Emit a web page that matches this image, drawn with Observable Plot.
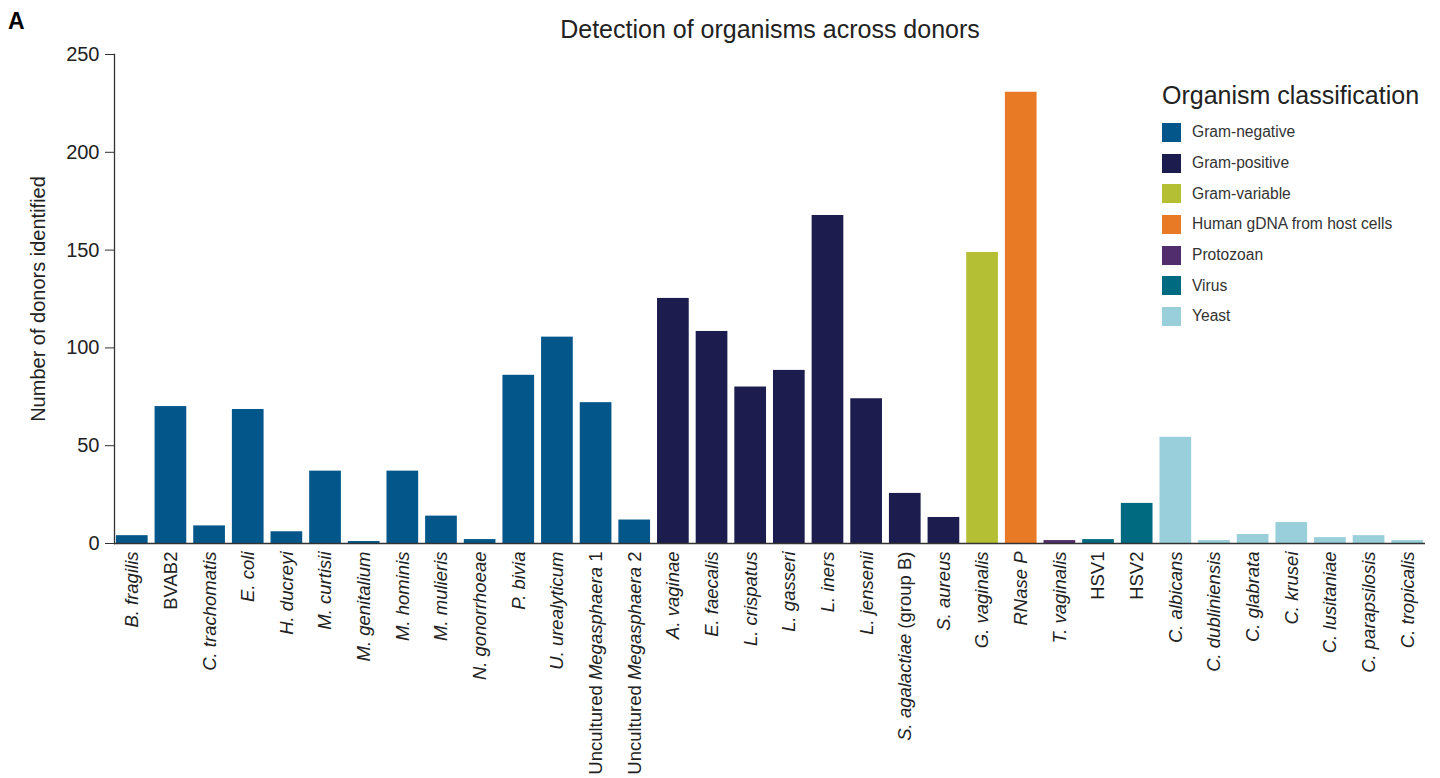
<!DOCTYPE html>
<html>
<head>
<meta charset="utf-8">
<script src="https://cdn.jsdelivr.net/npm/d3@7"></script>
<script src="https://cdn.jsdelivr.net/npm/@observablehq/plot@0.6"></script>
<style>
  html, body { margin: 0; padding: 0; background: white; }
  body { font-family: "Liberation Sans", Arial, sans-serif; color: #222; }
  #wrap { position: relative; width: 1440px; height: 778px; }
  #header { height: 44px; position: relative; }
  #panel { position: absolute; left: 8px; top: 8px; font-weight: bold; font-size: 23px; color: #000; }
  #title { position: absolute; left: 0; width: 1540px; top: 15px; text-align: center; font-size: 25px; color: #222; }
  #legend { position: absolute; left: 1162px; top: 80px; }
  #legend .lt { font-size: 25px; color: #222; line-height: 30px; margin-bottom: 7px; }
  #legend .row { display: flex; align-items: center; height: 30.7px; font-size: 15.6px; color: #333; }
  #legend .sw { width: 19px; height: 19px; margin-right: 11px; }
</style>
</head>
<body>
<div id="wrap">
  <div id="header">
    <div id="panel">A</div>
    <div id="title">Detection of organisms across donors</div>
  </div>
  <div id="chart"></div>
  <div id="legend"></div>
</div>
<script>
const categories = [
  "B. fragilis", "BVAB2", "C. trachomatis", "E. coli", "H. ducreyi", "M. curtisii",
  "M. genitalium", "M. hominis", "M. mulieris", "N. gonorrhoeae", "P. bivia",
  "U. urealyticum", "Uncultured Megasphaera 1", "Uncultured Megasphaera 2",
  "A. vaginae", "E. faecalis", "L. crispatus", "L. gasseri", "L. iners", "L. jensenii",
  "S. agalactiae (group B)", "S. aureus", "G. vaginalis", "RNase P", "T. vaginalis",
  "HSV1", "HSV2", "C. albicans", "C. dubliniensis", "C. glabrata", "C. krusei",
  "C. lusitaniae", "C. parapsilosis", "C. tropicalis"
];
const donors = [
  4, 70, 9, 68.5, 6, 37,
  1, 37, 14, 2, 86,
  105.5, 72, 12,
  125.3, 108.4, 80, 88.5, 167.7, 74,
  25.6, 13.3, 148.8, 230.7, 1.5,
  2, 20.5, 54.3, 1.5, 4.6, 10.7,
  3, 4, 1.5
];
const classification = [
  "Gram-negative", "Gram-negative", "Gram-negative", "Gram-negative", "Gram-negative", "Gram-negative",
  "Gram-negative", "Gram-negative", "Gram-negative", "Gram-negative", "Gram-negative",
  "Gram-negative", "Gram-negative", "Gram-negative",
  "Gram-positive", "Gram-positive", "Gram-positive", "Gram-positive", "Gram-positive", "Gram-positive",
  "Gram-positive", "Gram-positive", "Gram-variable", "Human gDNA from host cells", "Protozoan",
  "Virus", "Virus", "Yeast", "Yeast", "Yeast", "Yeast",
  "Yeast", "Yeast", "Yeast"
];
const classNames = ["Gram-negative", "Gram-positive", "Gram-variable", "Human gDNA from host cells", "Protozoan", "Virus", "Yeast"];
const classColors = ["#02568a", "#1c1c4e", "#b5bf33", "#e87a25", "#512d6d", "#006a80", "#98cfdb"];
const yTicks = [0, 50, 100, 150, 200, 250];
const uprightWords = ["BVAB2", "HSV1", "HSV2", "Uncultured", "1", "2", "(group", "B)"];

const data = categories.map((name, i) => ({name, value: donors[i], cls: classification[i]}));

const chart = Plot.plot({
  width: 1440,
  height: 734,
  marginTop: 10,
  marginBottom: 235,
  marginLeft: 114,
  marginRight: 15,
  style: {fontFamily: "'Liberation Sans', Arial, sans-serif", color: "#222", background: "white", overflow: "visible"},
  x: {domain: categories, paddingInner: 0.18, paddingOuter: 0.05, round: false},
  y: {domain: [0, 250]},
  color: {domain: classNames, range: classColors},
  marks: [
    Plot.barY(data, {x: "name", y: "value", fill: "cls"}),
    Plot.frame({anchor: "left", stroke: "#333", strokeWidth: 1.3}),
    Plot.ruleY([0], {stroke: "#333", strokeWidth: 1.5}),
    Plot.axisY({
      ticks: yTicks, tickSize: 9, tickPadding: 6, fontSize: 20,
      label: "Number of donors identified", labelAnchor: "center", labelArrow: "none",
      labelOffset: 84, stroke: "#333"
    }),
    Plot.axisX({tickRotate: -90, tickSize: 0, tickPadding: 8, fontSize: 18.5, label: null})
  ]
});
document.getElementById("chart").appendChild(chart);

// label font size for y-axis title
d3.select(chart).selectAll('g[aria-label="y-axis label"] text').attr("font-size", 20);

// italic species names within tick labels
d3.select(chart).selectAll('g[aria-label="x-axis tick label"] text').each(function() {
  const t = d3.select(this);
  const label = t.text();
  const words = label.split(" ");
  t.text("");
  words.forEach((w, i) => {
    t.append("tspan")
      .attr("font-style", uprightWords.includes(w) ? "normal" : "italic")
      .text(w + (i < words.length - 1 ? " " : ""));
  });
});

// legend
const legend = d3.select("#legend");
legend.append("div").attr("class", "lt").text("Organism classification");
classNames.forEach((c, i) => {
  const row = legend.append("div").attr("class", "row");
  row.append("div").attr("class", "sw").style("background", classColors[i]);
  row.append("span").text(c);
});
</script>
</body>
</html>
